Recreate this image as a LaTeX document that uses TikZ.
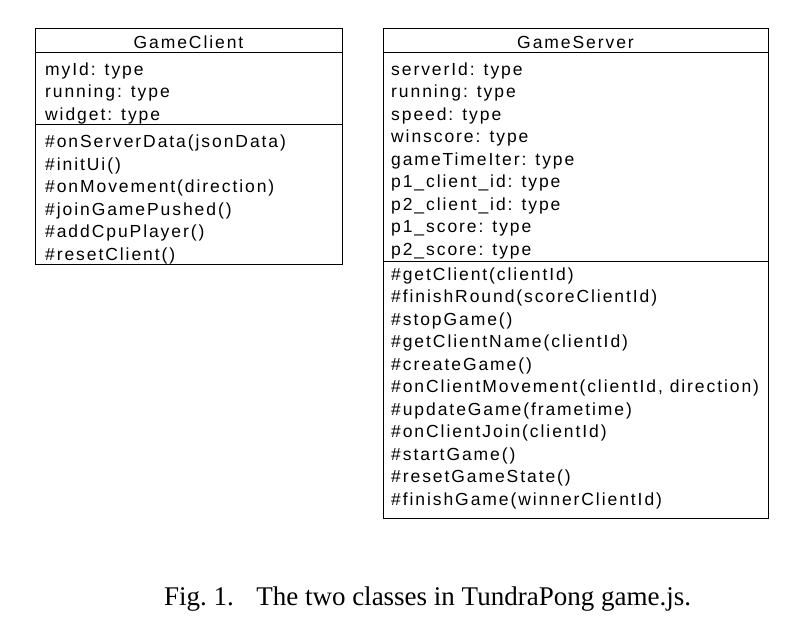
\documentclass[tikz,border=0pt]{standalone}
\usepackage{fontspec}
\setmainfont{Liberation Serif}
\newfontfamily\umlfont[LetterSpace=11]{Liberation Sans}
\begin{document}
\begin{tikzpicture}[x=1pt,y=-1pt,
  classbox/.style={draw=black,line width=1pt,inner sep=0pt,anchor=north west},
  divider/.style={draw=black,line width=1pt},
  member/.style={anchor=base west,inner sep=0pt,font=\umlfont\fontsize{17.5}{20}\selectfont},
  title/.style={anchor=base,inner sep=0pt,font=\umlfont\fontsize{17.5}{20}\selectfont},
  caption/.style={anchor=base,inner sep=0pt,font=\fontsize{27}{30}\selectfont}]
\useasboundingbox (0,0) rectangle (810,635);

% GameClient class
\node[classbox,minimum width=307pt,minimum height=236pt] (client) at (35,28) {};
\draw[divider] (35,52) -- (342,52);
\draw[divider] (35,124) -- (342,124);
\node[title] (ctitle) at (188.5,48.3) {GameClient};
\foreach \t [count=\i from 0] in {myId: type,running: type,widget: type}
  \node[member] (ca\i) at (45,75+22.5*\i) {\t};
\foreach \t [count=\i from 0] in {\#onServerData(jsonData),\#initUi(),\#onMovement(direction),\#joinGamePushed(),\#addCpuPlayer(),\#resetClient()}
  \node[member] (cm\i) at (45,147.5+22.5*\i) {\t};

% GameServer class
\node[classbox,minimum width=385pt,minimum height=490pt] (server) at (383,28) {};
\draw[divider] (383,52) -- (768,52);
\draw[divider] (383,261) -- (768,261);
\node[title] (stitle) at (575.5,48.3) {GameServer};
\foreach \t [count=\i from 0] in {serverId: type,running: type,speed: type,winscore: type,gameTimeIter: type,p1\_client\_id: type,p2\_client\_id: type,p1\_score: type,p2\_score: type}
  \node[member] (sa\i) at (391,75+22.5*\i) {\t};
\foreach \t [count=\i from 0] in {\#getClient(clientId),\#finishRound(scoreClientId),\#stopGame(),\#getClientName(clientId),\#createGame(),{\#onClientMovement(clientId, direction)},\#updateGame(frametime),\#onClientJoin(clientId),\#startGame(),\#resetGameState(),\#finishGame(winnerClientId)}
  \node[member] (sm\i) at (391,280+22.5*\i) {\t};

% figure caption
\node[caption] (cap) at (427.5,605) {Fig.~1.\hspace{0.5em} The two classes in TundraPong game.js.};
\end{tikzpicture}
\end{document}
